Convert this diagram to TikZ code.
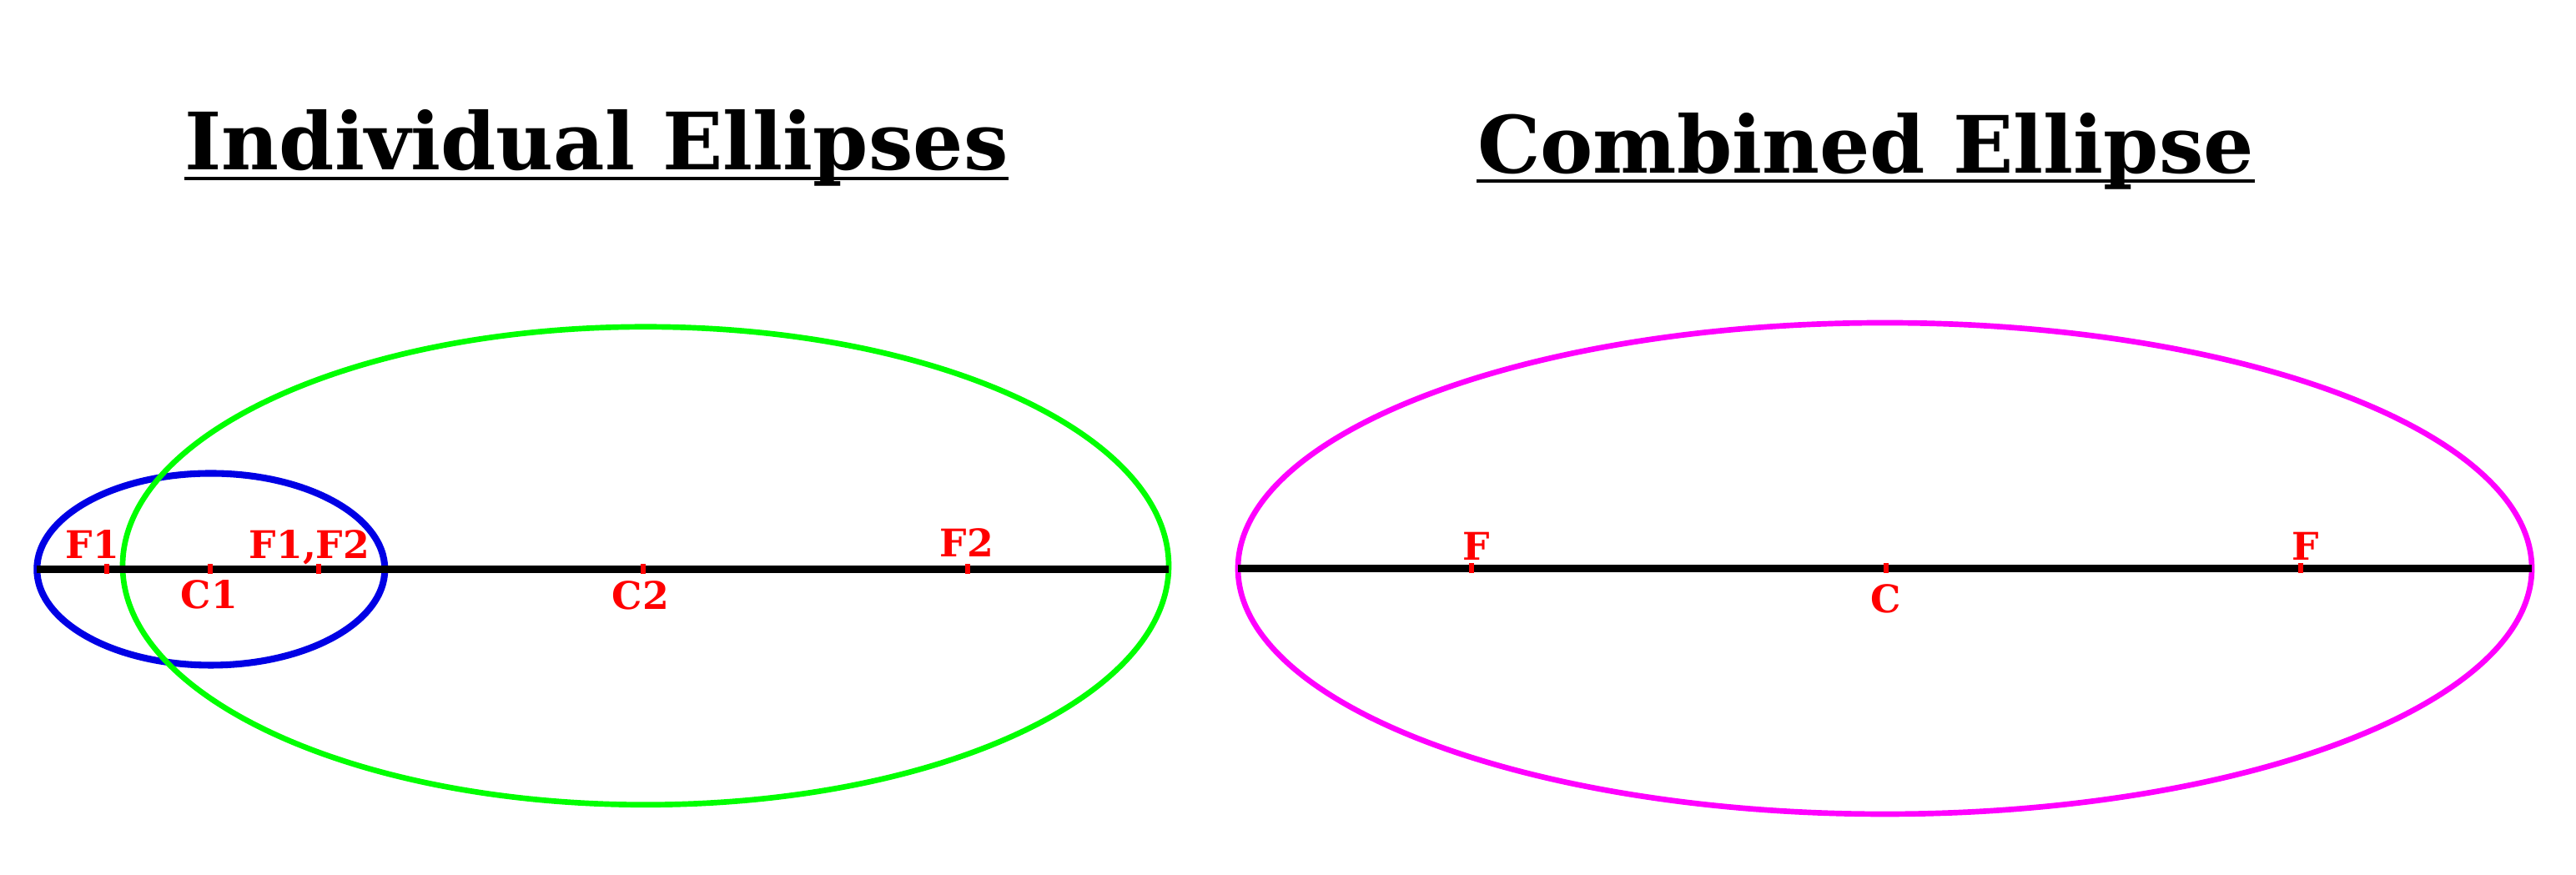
\documentclass[tikz,border=0pt]{standalone}
\usepackage{fontspec}
\setmainfont{DejaVu Serif}
\usepackage{tikz}
\usetikzlibrary{positioning, shapes.geometric}

\definecolor{orbitmagenta}{rgb}{1,0,1}
\definecolor{orbitblue}{rgb}{0,0,0.9}

\begin{document}
\begin{tikzpicture}[
        orbit/.style={ellipse,draw,inner sep=0pt,outer sep=0pt},
        axis/.style={draw=black,line width=2.4pt},
        ftick/.style={rectangle,fill=red,inner sep=0pt,minimum width=0.06cm,minimum height=0.12cm},
        lbl/.style={text=red,font=\bfseries\fontsize{13}{15}\selectfont,inner sep=0pt,anchor=base},
        title/.style={text=black,font=\bfseries\fontsize{27}{32}\selectfont,inner sep=0pt,anchor=base},
        uline/.style={draw=black,line width=1.3pt}]

        \useasboundingbox (0,0) rectangle (30.88,10.49);

        \node[title] (tInd) at (7.15,8.45) {Individual Ellipses};
        \node[title] (tComb) at (22.365,8.41) {Combined Ellipse};
        \draw[uline] ([yshift=-0.1cm]tInd.base west) -- ([yshift=-0.1cm]tInd.base east);
        \draw[uline] ([yshift=-0.09cm]tComb.base west) -- ([yshift=-0.09cm]tComb.base east);

        \node[orbit,draw=orbitblue,line width=2.3pt,minimum width=4.17cm,minimum height=2.30cm] (E1) at (2.528,3.665) {};
        \node[orbit,draw=green,line width=1.9pt,minimum width=12.54cm,minimum height=5.73cm] (E2) at (7.74,3.707) {};
        \node[orbit,draw=orbitmagenta,line width=1.9pt,minimum width=15.51cm,minimum height=5.89cm] (E) at (22.595,3.675) {};

        \draw[axis] (E1.west) -- (E1.west -| E2.east);
        \draw[axis] (E.west) -- (E.east);

        \node[ftick] (kF1) at (1.275,3.665) {};
        \node[ftick] (kC1) at (2.515,3.665) {};
        \node[ftick] (kF12) at (3.82,3.665) {};
        \node[ftick] (kC2) at (7.71,3.665) {};
        \node[ftick] (kF2) at (11.60,3.665) {};
        \node[ftick] (kFa) at (17.635,3.675) {};
        \node[ftick] (kC) at (22.61,3.675) {};
        \node[ftick] (kFb) at (27.58,3.675) {};

        \node[lbl] (lF1) at (1.11,3.79) {F1};
        \node[lbl] (lF12) at (3.71,3.79) {F1,F2};
        \node[lbl] (lF2) at (11.59,3.81) {F2};
        \node[lbl] (lC1) at (2.51,3.19) {C1};
        \node[lbl] (lC2) at (7.68,3.18) {C2};
        \node[lbl] (lFa) at (17.70,3.77) {F};
        \node[lbl] (lFb) at (27.64,3.77) {F};
        \node[lbl] (lC) at (22.61,3.14) {C};
    \end{tikzpicture}
\end{document}
